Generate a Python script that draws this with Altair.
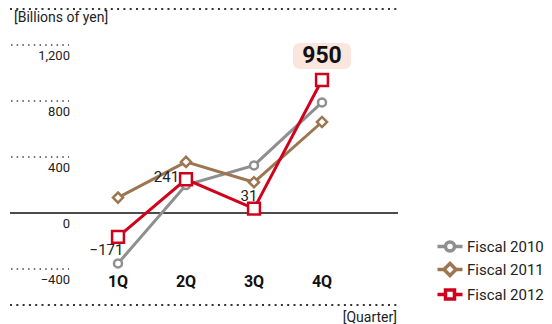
import altair as alt
import pandas as pd

# ---------------- data ----------------
quarters = ["1Q", "2Q", "3Q", "4Q"]
series = ["Fiscal 2010", "Fiscal 2011", "Fiscal 2012"]
fy2010 = [-360, 200, 340, 790]
fy2011 = [110, 365, 220, 650]
fy2012 = [-171, 241, 31, 950]
y_ticks = [1200, 800, 400, -400]
colors = ["#8f8f8f", "#9b7651", "#d0021b"]

rows = []
for s, vals in zip(series, [fy2010, fy2011, fy2012]):
    for i, (q, v) in enumerate(zip(quarters, vals)):
        rows.append({"series": s, "quarter": q, "qi": i + 1, "value": v})
df = pd.DataFrame(rows)
qdf = pd.DataFrame({"quarter": quarters, "qi": list(range(1, len(quarters) + 1))})
tdf = pd.DataFrame({"value": y_ticks})
ldf = pd.DataFrame({"value": y_ticks + [0]})
zdf = pd.DataFrame({"value": [0]})

# ---------------- layout ----------------
W, H = 536, 316
FONT = "Roboto, sans-serif"
TXT = "#222222"

x_scale = alt.Scale(domain=[-0.6176, 1 + (W - 110) / 68], nice=False, zero=False)
y_scale = alt.Scale(domain=[-792.86, 1464.29], nice=False, zero=False)
X = alt.X("qi:Q", scale=x_scale, axis=None)
Y = alt.Y("value:Q", scale=y_scale, axis=None)

# legend symbol paths (line + marker), unit = 9 px
line_a = "M-1.39,0L-0.5,0M0.5,0L1.39,0"
sym_paths = [
    line_a + "M-0.5,0A0.5,0.5,0,1,1,0.5,0A0.5,0.5,0,1,1,-0.5,0Z",
    "M-1.39,0L-0.67,0M0.67,0L1.39,0M0,-0.67L0.67,0L0,0.67L-0.67,0Z",
    line_a + "M-0.5,-0.5L0.5,-0.5L0.5,0.5L-0.5,0.5Z",
]

base = alt.Chart(df)

lines = base.mark_line(strokeWidth=3).encode(
    x=X, y=Y,
    color=alt.Color("series:N", scale=alt.Scale(domain=series, range=colors), legend=None))

points = base.mark_point(fill="white", filled=False, strokeWidth=2.5, opacity=1).encode(
    x=X, y=Y,
    stroke=alt.Stroke("series:N", scale=alt.Scale(domain=series, range=colors), legend=None),
    shape=alt.Shape("series:N", scale=alt.Scale(domain=series, range=["circle", "diamond", "square"]), legend=None),
    size=alt.Size("series:N", scale=alt.Scale(domain=series, range=[64, 140, 56]), legend=None),
)

legend = alt.Legend(
    orient="none", legendX=431, legendY=227.5, title=None, padding=0,
    symbolSize=324, labelFontSize=15, labelFont=FONT, labelColor=TXT,
    labelOffset=6, rowPadding=-3, symbolFillColor="white", symbolStrokeWidth=3.5,
    symbolOpacity=1,
)
legend_layer = base.transform_filter("false").mark_point(
    filled=False, fill="white", strokeWidth=3.5, opacity=1).encode(
    x=X, y=Y,
    color=alt.Color("series:N", scale=alt.Scale(domain=series, range=colors), legend=legend),
    shape=alt.Shape("series:N", scale=alt.Scale(domain=series, range=sym_paths), legend=legend),
)

# grid pieces
top_rule = alt.Chart(zdf).mark_rule(color="#333", strokeWidth=2, strokeDash=[2, 4.3]).encode(
    x=alt.value(2), x2=alt.value(392), y=alt.value(1))
bot_rule = alt.Chart(zdf).mark_rule(color="#333", strokeWidth=2, strokeDash=[2, 4.3]).encode(
    x=alt.value(2), x2=alt.value(392), y=alt.value(297))
short_rules = alt.Chart(tdf).mark_rule(color="#444", strokeWidth=1.5, strokeDash=[1.5, 4.2]).encode(
    x=alt.value(3), x2=alt.value(61), y=Y)
zero_rule = alt.Chart(zdf).mark_rule(color="#111", strokeWidth=1.5).encode(
    x=alt.value(2), x2=alt.value(390), y=Y)
tick_labels = alt.Chart(ldf).mark_text(align="right", baseline="middle", dy=11, fontSize=13,
                                       font=FONT, color=TXT).encode(
    x=alt.value(62), y=Y, text=alt.Text("value:Q", format=","))

q_labels = alt.Chart(qdf).mark_text(baseline="middle", fontSize=16, fontWeight="bold",
                                    font=FONT, color="#111").encode(
    x=X, y=alt.value(274), text="quarter:N")

unit_y = alt.Chart(zdf).mark_text(align="left", baseline="middle", fontSize=14, font=FONT, color=TXT,
                                  text="[Billions of yen]").encode(x=alt.value(6), y=alt.value(10))
unit_x = alt.Chart(zdf).mark_text(align="right", baseline="middle", fontSize=14, font=FONT, color=TXT,
                                  text="[Quarter]").encode(x=alt.value(389), y=alt.value(310))

# red series value labels
red = series[2]
offsets = {quarters[0]: (-11.5, 13), quarters[1]: (-19.5, -2), quarters[2]: (-5, -13)}
red_labels = []
for q, (ddx, ddy) in offsets.items():
    red_labels.append(
        base.transform_filter((alt.datum.series == red) & (alt.datum.quarter == q))
        .mark_text(dx=ddx, dy=ddy, fontSize=15, font=FONT, color=TXT, baseline="middle")
        .encode(x=X, y=Y, text=alt.Text("value:Q", format=","))
    )

box_path = ("M-0.76,-0.448L0.76,-0.448Q1,-0.448,1,-0.208L1,0.208Q1,0.448,0.76,0.448"
            "L-0.76,0.448Q-1,0.448,-1,0.208L-1,-0.208Q-1,-0.448,-0.76,-0.448Z")
last = base.transform_filter((alt.datum.series == red) & (alt.datum.quarter == quarters[3]))
box = last.mark_point(shape=box_path, size=3364, filled=True, fill="#fbe6dd", opacity=1,
                      strokeWidth=0, yOffset=-24).encode(x=X, y=Y)
big = last.mark_text(fontSize=23, fontWeight="bold", font=FONT, color="#111", baseline="middle",
                     dy=-24).encode(x=X, y=Y, text=alt.Text("value:Q", format=","))

chart = alt.layer(
    top_rule, bot_rule, short_rules, zero_rule, tick_labels, q_labels, unit_y, unit_x,
    lines, points, *red_labels, box, big, legend_layer,
).resolve_scale(
    color="independent", shape="independent",
).properties(
    width=W, height=H, autosize=alt.AutoSizeParams(type="none"), padding=0,
).configure_view(stroke=None)

chart.save("out.html", embed_options={"renderer": "svg", "actions": False})
